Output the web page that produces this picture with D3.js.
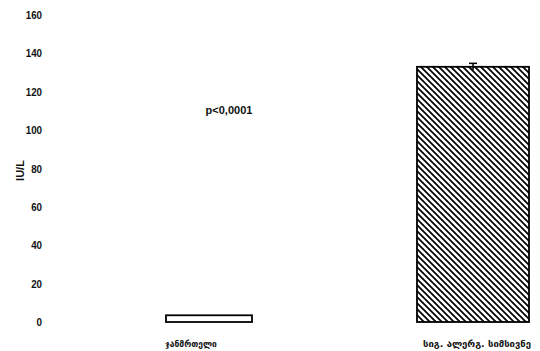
<!DOCTYPE html>
<html><head><meta charset="utf-8">
<script src="https://cdn.jsdelivr.net/npm/d3@7"></script>
<style>body{margin:0;background:#fff}</style>
</head><body>
<script>
const categories = ["ჯანმრთელი", "სიგ. ალერგ. სიმსივნე"];
const values = [3.5, 133];
const errors = [0, 1.8];
const yTicks = [0, 20, 40, 60, 80, 100, 120, 140, 160];
const yLabel = "IU/L";
const annotation = "p<0,0001";

const W = 540, H = 351;
const svg = d3.select("body").append("svg").attr("width", W).attr("height", H);
const defs = svg.append("defs");
const pat = defs.append("pattern").attr("id","hatch").attr("patternUnits","userSpaceOnUse")
  .attr("width",6).attr("height",6);
pat.append("rect").attr("width",6).attr("height",6).attr("fill","#fff");
pat.append("path").attr("d","M0,0L6,6M-1,5L1,7M5,-1L7,1").attr("stroke","#000").attr("stroke-width",1.7);

const y = d3.scaleLinear().domain([0,160]).range([322, 15]);
const x = d3.scaleBand().domain(categories).range([77, 605]).padding(0);
const widths = [86, 112];

// y tick labels
svg.append("g").selectAll("text").data(yTicks).join("text")
  .attr("x", 0).attr("y", 0)
  .attr("transform", d => `translate(42,${y(d) + 4}) scale(0.85,1)`)
  .attr("text-anchor","end")
  .attr("font-family","'Liberation Sans',Arial,sans-serif")
  .attr("font-weight","bold").attr("font-size",11.5).attr("fill","#111")
  .text(d => d);

svg.append("text").attr("transform",`translate(24,${y(80)+2}) rotate(-90)`)
  .attr("text-anchor","middle")
  .attr("font-family","'Liberation Sans','DejaVu Sans',sans-serif")
  .attr("font-weight","bold").attr("font-size",11).attr("fill","#111").text(yLabel);

// bars
svg.append("g").selectAll("rect").data(categories).join("rect")
  .attr("x", (d,i) => x(d) + x.bandwidth()/2 - widths[i]/2)
  .attr("width", (d,i) => widths[i])
  .attr("y", (d,i) => y(values[i]))
  .attr("height", (d,i) => y(0) - y(values[i]))
  .attr("fill", (d,i) => i === 1 ? "url(#hatch)" : "#fff")
  .attr("stroke","#000").attr("stroke-width",1.8);

// error bars
categories.forEach((c,i) => {
  if (!errors[i]) return;
  const cx = x(c) + x.bandwidth()/2;
  const g = svg.append("g").attr("stroke","#000").attr("stroke-width",1.5);
  g.append("line").attr("x1",cx).attr("x2",cx).attr("y1",y(values[i]+errors[i])).attr("y2",y(values[i]-errors[i]));
  g.append("line").attr("x1",cx-4).attr("x2",cx+4).attr("y1",y(values[i]+errors[i])).attr("y2",y(values[i]+errors[i]));
});

// category labels
svg.append("g").selectAll("text").data(categories).join("text")
  .attr("x", (d,i) => x(d) + x.bandwidth()/2 + (i===0 ? -18 : 4))
  .attr("y", 347)
  .attr("text-anchor","middle")
  .attr("font-family","'DejaVu Sans',sans-serif")
  .attr("font-weight","bold").attr("font-size",(d,i) => i===0 ? 8.5 : 9.5).attr("fill","#111")
  .text(d => d);

svg.append("text").attr("x", 229).attr("y", 114).attr("text-anchor","middle")
  .attr("font-family","'Liberation Sans',Arial,sans-serif")
  .attr("font-weight","bold").attr("font-size",11).attr("fill","#111").text(annotation);
</script>
</body></html>
